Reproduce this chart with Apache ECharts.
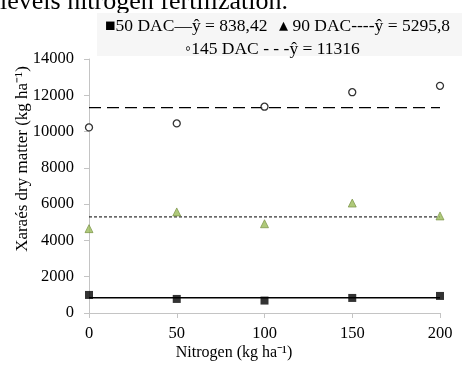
<!DOCTYPE html>
<html>
<head>
<meta charset="utf-8">
<script src="https://cdn.jsdelivr.net/npm/echarts@6/dist/echarts.min.js"></script>
<style>html,body{margin:0;padding:0;background:#fff}#c{width:462px;height:365px}</style>
</head>
<body>
<div id="c"></div>
<script>
var nitrogen = [0, 50, 100, 150, 200];
var dac50 = [995, 775, 685, 830, 940];
var dac90 = [4650, 5570, 4920, 6060, 5350];
var dac145 = [10230, 10450, 11370, 12170, 12520];
var mean50 = 838.42;
var mean90 = 5295.8;
var mean145 = 11316;

function pts(vals){ return nitrogen.map(function(x,i){ return [x, vals[i]]; }); }
function flat(v){ return [[nitrogen[0], v], [nitrogen[nitrogen.length-1], v]]; }

var F = '"Liberation Serif", "Times New Roman", serif';
var chart = echarts.init(document.getElementById('c'));
chart.setOption({
  animation: false,
  grid: {left: 89, right: 22, top: 59, bottom: 52},
  xAxis: {
    type: 'value', min: 0, max: 200, interval: 50,
    axisLine: {lineStyle: {color: '#c4c4c4'}},
    axisTick: {show: true, length: 5, lineStyle: {color: '#c4c4c4'}},
    splitLine: {show: false},
    axisLabel: {color: '#000', fontFamily: F, fontSize: 16.5, margin: 12, formatter: function(v){ return String(v); }}
  },
  yAxis: {
    type: 'value', min: 0, max: 14000, interval: 2000,
    axisLine: {show: true, lineStyle: {color: '#c4c4c4'}},
    axisTick: {show: true, length: 5, lineStyle: {color: '#c4c4c4'}},
    splitLine: {show: false},
    axisLabel: {color: '#000', fontFamily: F, fontSize: 16.5, margin: 15, formatter: function(v){ return String(v); }}
  },
  series: [
    {type: 'line', data: flat(mean50), symbol: 'none', lineStyle: {color: '#000', width: 1.5, type: 'solid'}, z: 2},
    {type: 'line', data: flat(mean90), symbol: 'none', lineStyle: {color: '#000', width: 1, type: [3, 2]}, z: 2},
    {type: 'line', data: flat(mean145), symbol: 'none', lineStyle: {color: '#000', width: 1.3, type: [12, 6]}, z: 2},
    {type: 'scatter', data: pts(dac50), symbol: 'rect', symbolSize: 8, itemStyle: {color: '#000'}, z: 3},
    {type: 'scatter', data: pts(dac90), symbol: 'triangle', symbolSize: 8, itemStyle: {color: '#9bbb59', borderColor: '#6f8a3a', borderWidth: 0.8}, z: 3},
    {type: 'scatter', data: pts(dac145), symbol: 'circle', symbolSize: 7, itemStyle: {color: '#fff', borderColor: '#000', borderWidth: 1.3}, z: 3}
  ],
  graphic: [
    {type: 'text', x: 0, y: 15, z: -2, style: {text: 'levels nitrogen fertilization.', font: '26px ' + F, fill: '#000', verticalAlign: 'bottom'}},
    {type: 'rect', shape: {x: 97, y: 13, width: 370, height: 43}, style: {fill: '#f6f6f6'}, z: -1},
    {type: 'text', x: 105, y: 26, style: {text: '\u25A050 DAC\u2014\u0177 = 838,42', font: '17.5px ' + F, fill: '#000', verticalAlign: 'middle'}},
    {type: 'text', x: 279, y: 26, style: {text: '\u25B4 90 DAC----\u0177 = 5295,8', font: '17.5px ' + F, fill: '#000', verticalAlign: 'middle'}},
    {type: 'text', x: 185, y: 49, style: {text: '\u25E6145 DAC - - -\u0177 = 11316', font: '17.5px ' + F, fill: '#000', verticalAlign: 'middle'}},
    {type: 'text', x: 23, y: 159, rotation: Math.PI / 2, style: {text: 'Xara\u00E9s dry matter (kg ha\u207B\u00B9)', font: '17px ' + F, fill: '#000', align: 'center', verticalAlign: 'middle'}},
    {type: 'text', x: 234, y: 353, style: {text: 'Nitrogen (kg ha\u207B\u00B9)', font: '16px ' + F, fill: '#000', align: 'center', verticalAlign: 'middle'}}
  ]
});
</script>
</body>
</html>
